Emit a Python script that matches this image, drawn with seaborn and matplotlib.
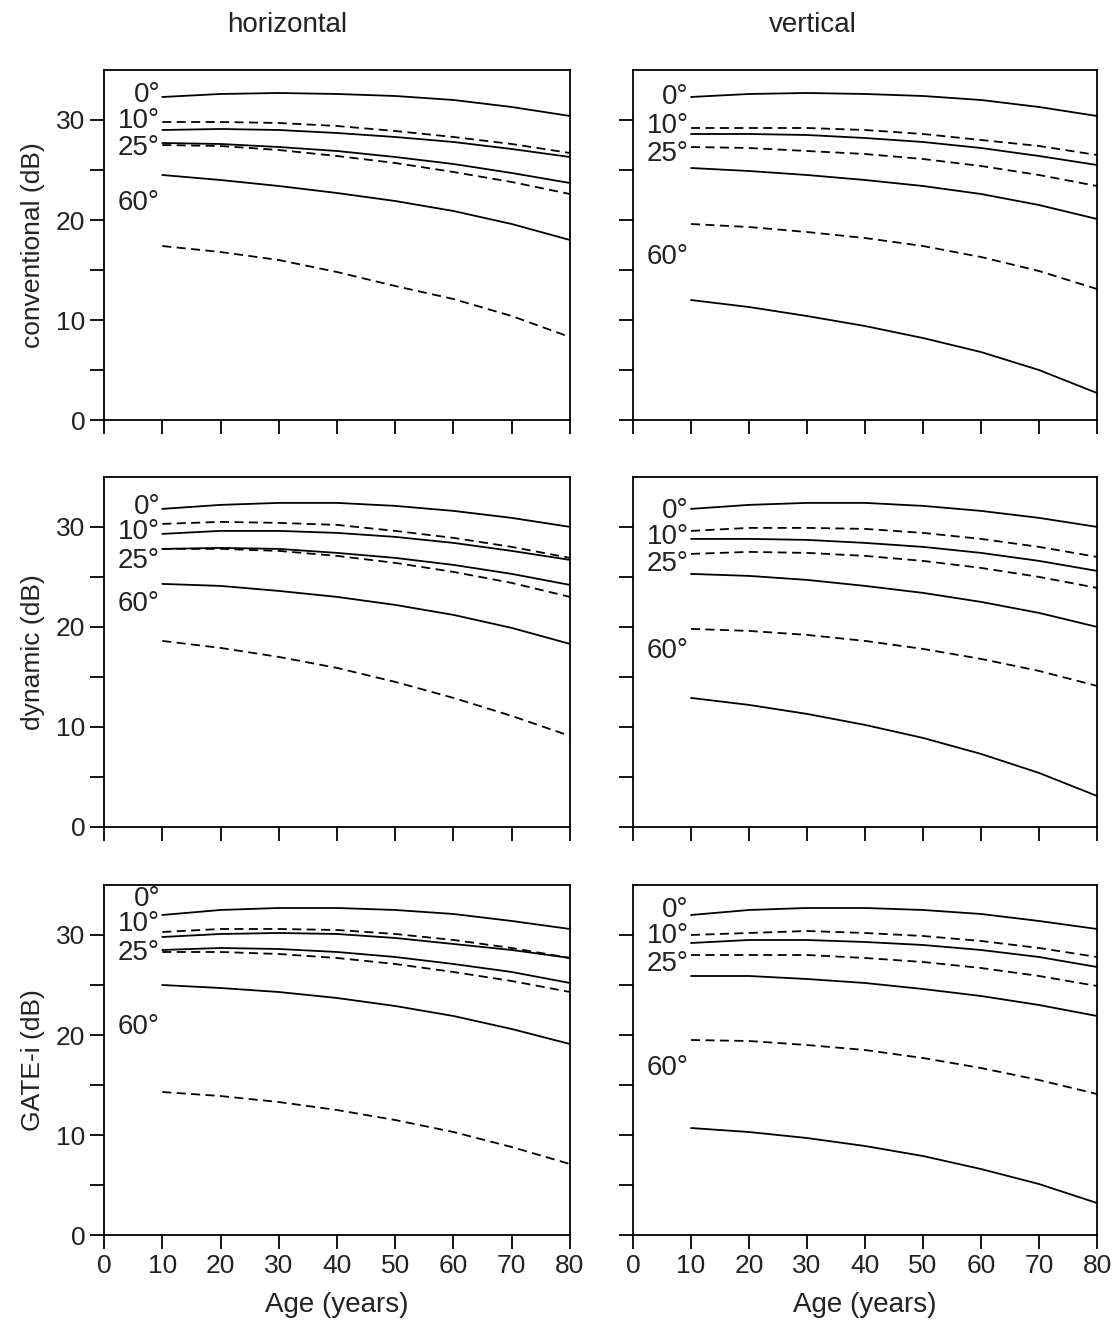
import numpy as np
import pandas as pd
import matplotlib
matplotlib.use("Agg")
import matplotlib.pyplot as plt
import seaborn as sns

# --- data (dB vs age) ---
AGE = [10, 20, 30, 40, 50, 60, 70, 80]
ANGLES = ["0°", "10°", "25°", "60°"]
COLUMNS = ["horizontal", "vertical"]
ROWS = ["conventional (dB)", "dynamic (dB)", "GATE-i (dB)"]

conventional_horizontal = {
    "0° solid":   [32.3, 32.6, 32.7, 32.6, 32.4, 32.0, 31.3, 30.4],
    "10° dashed": [29.8, 29.8, 29.7, 29.4, 28.9, 28.3, 27.6, 26.7],
    "10° solid":  [29.0, 29.1, 29.0, 28.7, 28.3, 27.8, 27.1, 26.3],
    "25° solid":  [27.7, 27.6, 27.3, 26.9, 26.3, 25.6, 24.7, 23.7],
    "25° dashed": [27.5, 27.4, 27.0, 26.4, 25.7, 24.8, 23.8, 22.6],
    "60° solid":  [24.5, 24.0, 23.4, 22.7, 21.9, 20.9, 19.6, 18.0],
    "60° dashed": [17.4, 16.8, 16.0, 14.8, 13.4, 12.1, 10.4, 8.3],
}
conventional_vertical = {
    "0° solid":   [32.3, 32.6, 32.7, 32.6, 32.4, 32.0, 31.3, 30.4],
    "10° dashed": [29.2, 29.2, 29.2, 29.0, 28.6, 28.0, 27.4, 26.5],
    "10° solid":  [28.6, 28.6, 28.5, 28.2, 27.8, 27.2, 26.4, 25.5],
    "25° dashed": [27.3, 27.2, 26.9, 26.6, 26.1, 25.4, 24.5, 23.4],
    "25° solid":  [25.2, 24.9, 24.5, 24.0, 23.4, 22.6, 21.5, 20.1],
    "60° dashed": [19.6, 19.3, 18.8, 18.2, 17.4, 16.3, 14.9, 13.1],
    "60° solid":  [12.0, 11.3, 10.4, 9.4, 8.2, 6.8, 5.0, 2.7],
}
dynamic_horizontal = {
    "0° solid":   [31.8, 32.2, 32.4, 32.4, 32.1, 31.6, 30.9, 30.0],
    "10° dashed": [30.3, 30.5, 30.4, 30.2, 29.6, 28.9, 28.0, 26.9],
    "10° solid":  [29.3, 29.6, 29.6, 29.4, 29.0, 28.4, 27.6, 26.7],
    "25° solid":  [27.8, 27.9, 27.8, 27.4, 26.9, 26.2, 25.3, 24.2],
    "25° dashed": [27.8, 27.8, 27.6, 27.1, 26.4, 25.5, 24.4, 23.0],
    "60° solid":  [24.3, 24.1, 23.6, 23.0, 22.2, 21.2, 19.9, 18.3],
    "60° dashed": [18.6, 17.9, 17.0, 15.9, 14.5, 12.9, 11.1, 9.1],
}
dynamic_vertical = {
    "0° solid":   [31.8, 32.2, 32.4, 32.4, 32.1, 31.6, 30.9, 30.0],
    "10° dashed": [29.6, 29.9, 29.9, 29.8, 29.4, 28.8, 28.0, 27.0],
    "10° solid":  [28.8, 28.8, 28.7, 28.4, 28.0, 27.4, 26.6, 25.6],
    "25° dashed": [27.3, 27.5, 27.4, 27.1, 26.6, 25.9, 25.0, 23.9],
    "25° solid":  [25.3, 25.1, 24.7, 24.1, 23.4, 22.5, 21.4, 20.0],
    "60° dashed": [19.8, 19.6, 19.2, 18.6, 17.8, 16.8, 15.6, 14.1],
    "60° solid":  [12.9, 12.2, 11.3, 10.2, 8.9, 7.3, 5.4, 3.1],
}
gate_horizontal = {
    "0° solid":   [32.0, 32.5, 32.7, 32.7, 32.5, 32.1, 31.4, 30.6],
    "10° dashed": [30.3, 30.6, 30.6, 30.5, 30.1, 29.5, 28.7, 27.7],
    "10° solid":  [29.8, 30.1, 30.2, 30.1, 29.7, 29.1, 28.5, 27.7],
    "25° solid":  [28.5, 28.7, 28.6, 28.3, 27.8, 27.1, 26.3, 25.2],
    "25° dashed": [28.3, 28.3, 28.1, 27.7, 27.1, 26.3, 25.4, 24.3],
    "60° solid":  [25.0, 24.7, 24.3, 23.7, 22.9, 21.9, 20.6, 19.1],
    "60° dashed": [14.3, 13.9, 13.3, 12.5, 11.5, 10.3, 8.8, 7.1],
}
gate_vertical = {
    "0° solid":   [32.0, 32.5, 32.7, 32.7, 32.5, 32.1, 31.4, 30.6],
    "10° dashed": [30.0, 30.2, 30.4, 30.2, 29.9, 29.4, 28.7, 27.8],
    "10° solid":  [29.2, 29.5, 29.5, 29.3, 29.0, 28.5, 27.8, 26.8],
    "25° dashed": [28.0, 28.0, 28.0, 27.7, 27.3, 26.7, 25.9, 24.9],
    "25° solid":  [25.9, 25.9, 25.6, 25.2, 24.6, 23.9, 23.0, 21.9],
    "60° dashed": [19.5, 19.4, 19.0, 18.5, 17.7, 16.7, 15.5, 14.1],
    "60° solid":  [10.7, 10.3, 9.7, 8.9, 7.9, 6.6, 5.1, 3.2],
}

PANELS = [
    [conventional_horizontal, conventional_vertical],
    [dynamic_horizontal, dynamic_vertical],
    [gate_horizontal, gate_vertical],
]

# where the angle labels sit (y in dB), per panel
LABEL_Y = [
    [[32.5, 29.9, 27.2, 21.7], [32.3, 29.4, 26.6, 16.3]],
    [[32.0, 29.5, 26.6, 22.3], [31.6, 29.0, 26.3, 17.6]],
    [[33.6, 31.1, 28.2, 20.8], [32.5, 29.9, 27.1, 16.7]],
]

sns.set_style("ticks")
plt.rcParams["font.family"] = ["Liberation Sans", "DejaVu Sans"]
plt.rcParams["axes.linewidth"] = 1.3

fig = plt.figure(figsize=(11.2, 13.28), dpi=100)

col_x = [0.0929, 0.5652]
col_w = [0.4160, 0.4143]
row_y = [0.6837, 0.3773, 0.0700]
row_h = 0.2636
title_x = [287 / 1120, 813 / 1120]

TXT = "#222222"
DASH = (0, (5, 3))

for r in range(3):
    for c in range(2):
        ax = fig.add_axes([col_x[c], row_y[r], col_w[c], row_h])
        curves = PANELS[r][c]
        for name, vals in curves.items():
            ls = "-" if "solid" in name else DASH
            sns.lineplot(x=AGE, y=vals, ax=ax, color="black", linewidth=1.3,
                         linestyle=ls, estimator=None)

        for ang, ly in zip(ANGLES, LABEL_Y[r][c]):
            ax.text(9.6, ly, ang, ha="right", va="center", fontsize=20, color=TXT)

        ax.set_xlim(0, 80)
        ax.set_ylim(0, 35)
        ax.set_xticks(range(0, 81, 10))
        ax.set_yticks([0, 10, 20, 30])
        ax.set_yticks([5, 15, 25], minor=True)
        ax.tick_params(axis="both", which="both", direction="out", length=10,
                       width=1.3, color="black", labelsize=19, labelcolor=TXT)
        for sp in ax.spines.values():
            sp.set_visible(True)
            sp.set_color("black")

        if r < 2:
            ax.set_xticklabels([])
            ax.set_xlabel("")
        else:
            ax.set_xlabel("Age (years)", fontsize=20, color=TXT, labelpad=10)

        if c == 0:
            ax.set_ylabel(ROWS[r], fontsize=19, color=TXT, labelpad=8)
        else:
            ax.set_ylabel("")
            ax.set_yticklabels([])

for c in range(2):
    fig.text(title_x[c], 1 - 25 / 1328, COLUMNS[c], ha="center", va="center",
             fontsize=20, color=TXT)

fig.savefig("out.png", dpi=100, facecolor="white")
